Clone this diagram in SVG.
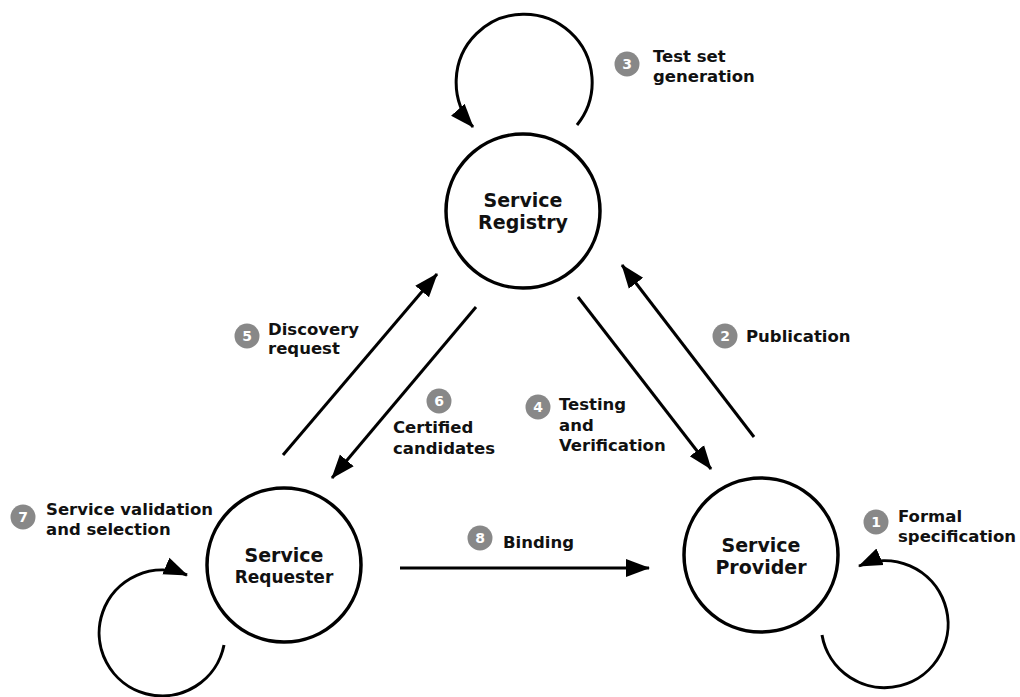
<svg xmlns="http://www.w3.org/2000/svg" width="1020" height="697" viewBox="0 0 1020 697">
<defs>
<style>
.node{fill:#fff;stroke:#000;stroke-width:3.5}
.nt{font-family:"DejaVu Sans","Liberation Sans",sans-serif;font-weight:bold;font-size:19px;fill:#111;text-anchor:middle}
.lt{font-family:"DejaVu Sans","Liberation Sans",sans-serif;font-weight:bold;font-size:16.5px;fill:#111}
.bd{fill:#888}
.bn{font-family:"DejaVu Sans","Liberation Sans",sans-serif;font-weight:bold;font-size:14px;fill:#fff;text-anchor:middle}
.ln{fill:none;stroke:#000;stroke-width:3}
</style>
<marker id="ah" markerUnits="userSpaceOnUse" markerWidth="26" markerHeight="22" viewBox="0 0 26 22" refX="23" refY="11" orient="auto">
<path d="M0,2 L24,11 L0,20 Z" fill="#000"/>
</marker>
</defs>
<rect width="1020" height="697" fill="#fff"/>
<g id="connectors">
<line class="ln" x1="283" y1="455" x2="437" y2="274" marker-end="url(#ah)"/>
<line class="ln" x1="476" y1="307" x2="332" y2="478" marker-end="url(#ah)"/>
<line class="ln" x1="578" y1="297" x2="711" y2="469" marker-end="url(#ah)"/>
<line class="ln" x1="754" y1="437" x2="622" y2="265" marker-end="url(#ah)"/>
<line class="ln" x1="400" y1="568" x2="649" y2="568" marker-end="url(#ah)"/>
<path class="ln" d="M577,125 A68,68 0 1 0 473,127" marker-end="url(#ah)"/>
<path class="ln" d="M224,645 A63,63 0 1 1 187,575" marker-end="url(#ah)"/>
<path class="ln" d="M822,635 A63.5,63.5 0 1 0 859,566" marker-end="url(#ah)"/>
</g>
<g id="registry">
<circle class="node" cx="523" cy="211" r="77"/>
<text class="nt" x="523" y="207">Service</text>
<text class="nt" x="523" y="229">Registry</text>
</g>
<g id="requester">
<circle class="node" cx="284" cy="565" r="77"/>
<text class="nt" x="284" y="562">Service</text>
<text class="nt" x="284" y="583" style="font-size:17px">Requester</text>
</g>
<g id="provider">
<circle class="node" cx="761" cy="555" r="77"/>
<text class="nt" x="761" y="552">Service</text>
<text class="nt" x="761" y="574">Provider</text>
</g>
<g id="label1">
<circle class="bd" cx="876" cy="522" r="12.5"/>
<text class="bn" x="876" y="527">1</text>
<text class="lt" x="898" y="522">Formal</text>
<text class="lt" x="898" y="542">specification</text>
</g>
<g id="label2">
<circle class="bd" cx="725" cy="336" r="12.5"/>
<text class="bn" x="725" y="341">2</text>
<text class="lt" x="746" y="342">Publication</text>
</g>
<g id="label3">
<circle class="bd" cx="627" cy="64" r="12.5"/>
<text class="bn" x="627" y="69">3</text>
<text class="lt" x="653" y="62">Test set</text>
<text class="lt" x="653" y="82">generation</text>
</g>
<g id="label4">
<circle class="bd" cx="538" cy="407" r="12.5"/>
<text class="bn" x="538" y="412">4</text>
<text class="lt" x="559" y="410">Testing</text>
<text class="lt" x="559" y="431">and</text>
<text class="lt" x="559" y="451">Verification</text>
</g>
<g id="label5">
<circle class="bd" cx="247" cy="336" r="12.5"/>
<text class="bn" x="247" y="341">5</text>
<text class="lt" x="268" y="335">Discovery</text>
<text class="lt" x="268" y="354">request</text>
</g>
<g id="label6">
<circle class="bd" cx="439" cy="401" r="12.5"/>
<text class="bn" x="439" y="406">6</text>
<text class="lt" x="393" y="433">Certified</text>
<text class="lt" x="393" y="454">candidates</text>
</g>
<g id="label7">
<circle class="bd" cx="23" cy="517" r="12.5"/>
<text class="bn" x="23" y="522">7</text>
<text class="lt" x="46" y="515">Service validation</text>
<text class="lt" x="46" y="535">and selection</text>
</g>
<g id="label8">
<circle class="bd" cx="480" cy="538" r="12.5"/>
<text class="bn" x="480" y="543">8</text>
<text class="lt" x="503" y="548">Binding</text>
</g>
</svg>
